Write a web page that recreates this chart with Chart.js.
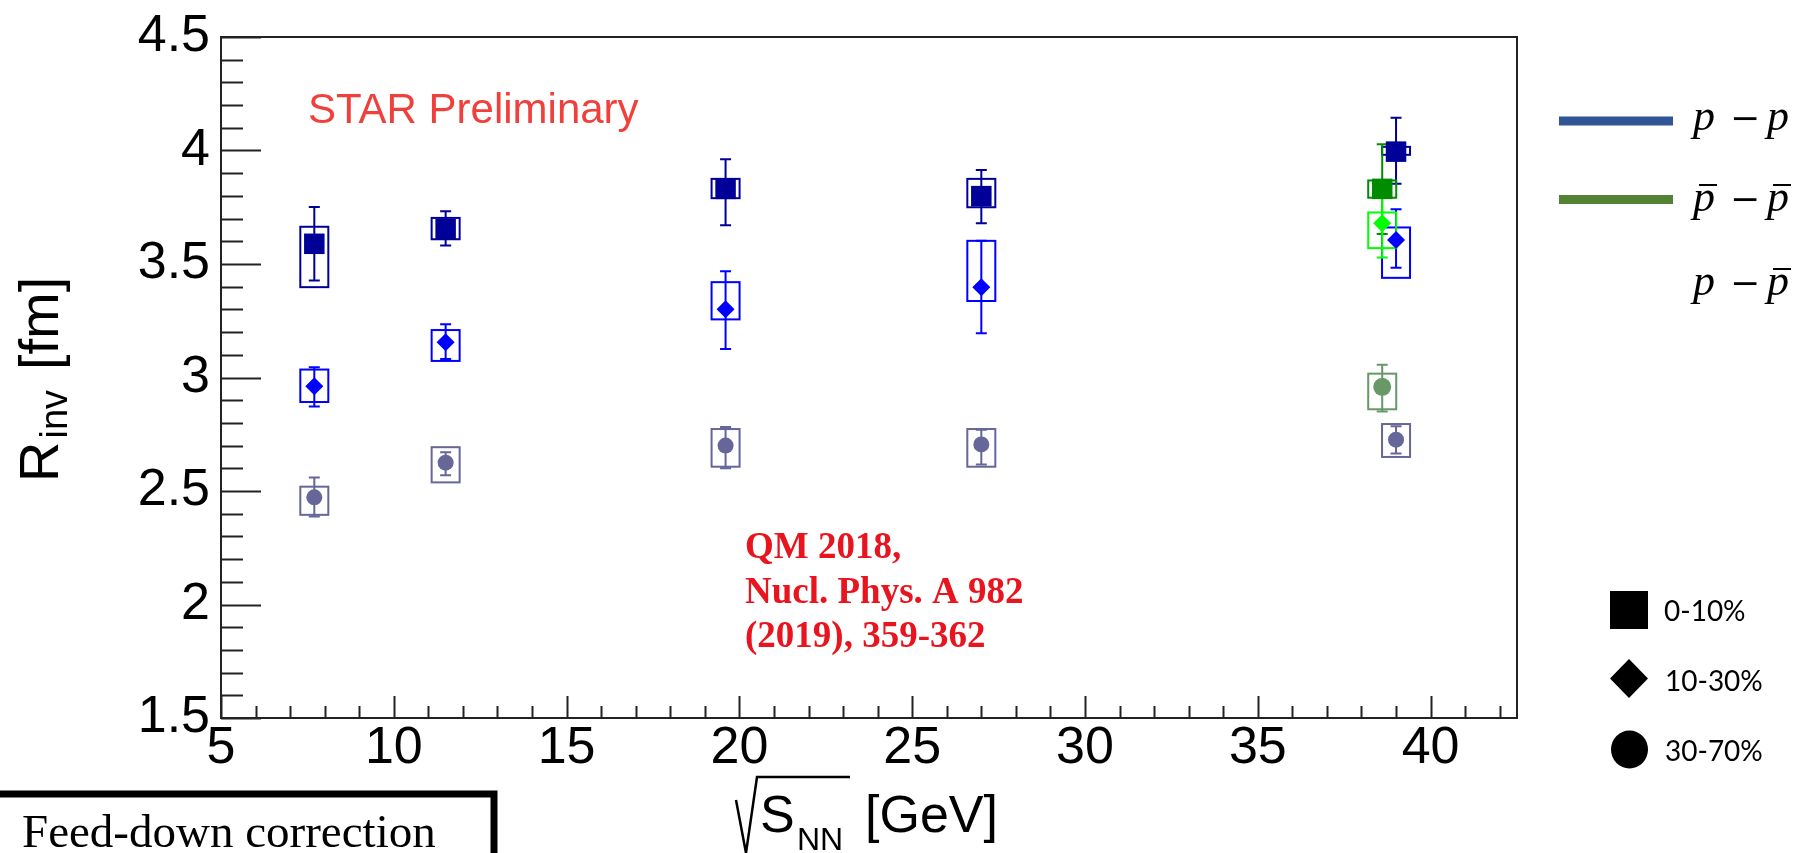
<!DOCTYPE html>
<html><head><meta charset="utf-8">
<script src="https://cdn.jsdelivr.net/npm/chart.js@4.4.1/dist/chart.umd.min.js"></script>
<style>html,body{margin:0;padding:0;background:#fff;overflow:hidden}canvas{display:block}</style>
</head><body>
<canvas id="c" width="1811" height="853"></canvas>
<script>
// ---------------- data ----------------
const energies = [7.7, 11.5, 19.6, 27, 39];          // sqrt(s_NN) [GeV], p-p
const pbarEnergies = [38.6];                          // pbar-pbar (39 GeV, drawn shifted)
const xTickValues = [5, 10, 15, 20, 25, 30, 35, 40];
const yTickValues = [1.5, 2, 2.5, 3, 3.5, 4, 4.5];
const yTickLabels = ['1.5', '2', '2.5', '3', '3.5', '4', '4.5'];

// p-p 0-10%
const pp010 = [3.589, 3.654, 3.831, 3.799, 3.995];
const pp010StatLo = [3.427, 3.581, 3.671, 3.680, 3.853];
const pp010StatHi = [3.751, 3.732, 3.962, 3.914, 4.144];
const pp010SysLo = [3.398, 3.609, 3.790, 3.750, 3.981];
const pp010SysHi = [3.664, 3.703, 3.875, 3.875, 4.016];
// p-p 10-30%
const pp1030 = [2.962, 3.155, 3.301, 3.398, 3.606];
const pp1030StatLo = [2.872, 3.081, 3.126, 3.195, 3.483];
const pp1030StatHi = [3.045, 3.235, 3.468, 3.602, 3.741];
const pp1030SysLo = [2.892, 3.073, 3.256, 3.337, 3.439];
const pp1030SysHi = [3.035, 3.209, 3.420, 3.602, 3.661];
// p-p 30-70%
const pp3070 = [2.472, 2.625, 2.700, 2.705, 2.726];
const pp3070StatLo = [2.388, 2.569, 2.600, 2.617, 2.665];
const pp3070StatHi = [2.559, 2.671, 2.782, 2.770, 2.785];
const pp3070SysLo = [2.395, 2.538, 2.607, 2.607, 2.650];
const pp3070SysHi = [2.519, 2.693, 2.773, 2.773, 2.795];
// pbar-pbar
const pb010 = [3.831], pb010StatLo = [3.632], pb010StatHi = [4.028], pb010SysLo = [3.792], pb010SysHi = [3.868];
const pb1030 = [3.679], pb1030StatLo = [3.529], pb1030StatHi = [3.831], pb1030SysLo = [3.570], pb1030SysHi = [3.727];
const pb3070 = [2.959], pb3070StatLo = [2.850], pb3070StatHi = [3.056], pb3070SysLo = [2.860], pb3070SysHi = [3.017];

// ---------------- series definitions ----------------
const series = [
  {x: energies, y: pp010, sLo: pp010StatLo, sHi: pp010StatHi, yLo: pp010SysLo, yHi: pp010SysHi, color: '#000099', style: 'rect', r: 14.5},
  {x: energies, y: pp1030, sLo: pp1030StatLo, sHi: pp1030StatHi, yLo: pp1030SysLo, yHi: pp1030SysHi, color: '#0000ff', style: 'rectRot', r: 9},
  {x: energies, y: pp3070, sLo: pp3070StatLo, sHi: pp3070StatHi, yLo: pp3070SysLo, yHi: pp3070SysHi, color: '#666699', style: 'circle', r: 8},
  {x: pbarEnergies, y: pb010, sLo: pb010StatLo, sHi: pb010StatHi, yLo: pb010SysLo, yHi: pb010SysHi, color: '#008c00', style: 'rect', r: 14.5},
  {x: pbarEnergies, y: pb1030, sLo: pb1030StatLo, sHi: pb1030StatHi, yLo: pb1030SysLo, yHi: pb1030SysHi, color: '#00ff00', style: 'rectRot', r: 9},
  {x: pbarEnergies, y: pb3070, sLo: pb3070StatLo, sHi: pb3070StatHi, yLo: pb3070SysLo, yHi: pb3070SysHi, color: '#669966', style: 'circle', r: 9},
];

const datasets = series.map(s => ({
  data: s.x.map((xv, i) => ({x: xv, y: s.y[i]})),
  pointStyle: s.style,
  pointRadius: s.r,
  pointBackgroundColor: s.color,
  pointBorderColor: s.color,
  pointBorderWidth: 0,
  showLine: false
}));

// ---------------- plugins ----------------
const errorPlugin = {
  id: 'errs',
  beforeDatasetsDraw(chart) {
    const {ctx, scales: {x, y}} = chart;
    ctx.save();
    series.forEach(s => {
      ctx.strokeStyle = s.color;
      ctx.lineWidth = 2;
      s.x.forEach((xv, i) => {
        const px = x.getPixelForValue(xv);
        const top = y.getPixelForValue(s.yHi[i]);
        const bot = y.getPixelForValue(s.yLo[i]);
        ctx.strokeRect(px - 14, top, 28, bot - top);
        const st = y.getPixelForValue(s.sHi[i]);
        const sb = y.getPixelForValue(s.sLo[i]);
        ctx.beginPath();
        ctx.moveTo(px, st); ctx.lineTo(px, sb);
        ctx.moveTo(px - 5.5, st); ctx.lineTo(px + 5.5, st);
        ctx.moveTo(px - 5.5, sb); ctx.lineTo(px + 5.5, sb);
        ctx.stroke();
      });
    });
    ctx.restore();
  }
};

const framePlugin = {
  id: 'frame',
  afterDatasetsDraw(chart) {
    const {ctx, chartArea: a, scales: {x, y}} = chart;
    ctx.save();
    ctx.strokeStyle = '#222';
    ctx.lineWidth = 2;
    ctx.beginPath();
    ctx.rect(a.left, a.top, a.right - a.left, a.bottom - a.top);
    ctx.stroke();
    ctx.beginPath();
    for (let k = 15; k <= 45; k++) {
      const py = Math.round(y.getPixelForValue(k / 10)) + 0.5;
      const len = (k % 5 === 0) ? 40 : 22;
      ctx.moveTo(a.left, py); ctx.lineTo(a.left + len, py);
    }
    for (let k = 5; k <= 42; k++) {
      const px = Math.round(x.getPixelForValue(k)) + 0.5;
      const len = (k % 5 === 0) ? 22 : 12;
      ctx.moveTo(px, a.bottom); ctx.lineTo(px, a.bottom - len);
    }
    ctx.stroke();
    ctx.restore();
  }
};

const textPlugin = {
  id: 'texts',
  afterDraw(chart) {
    const ctx = chart.ctx;
    ctx.save();
    ctx.textBaseline = 'alphabetic';
    ctx.textAlign = 'left';
    // STAR Preliminary
    ctx.fillStyle = '#f0403c';
    ctx.font = '42px "Liberation Sans"';
    ctx.fillText('STAR Preliminary', 308, 123);
    // reference
    ctx.fillStyle = '#e8141e';
    ctx.font = 'bold 37px "Liberation Serif"';
    ctx.fillText('QM 2018,', 745, 558);
    ctx.fillText('Nucl. Phys. A 982', 745, 603);
    ctx.fillText('(2019), 359-362', 745, 647);

    // y title (rotated)
    ctx.fillStyle = '#000';
    ctx.save();
    ctx.translate(58, 482);
    ctx.rotate(-Math.PI / 2);
    ctx.font = '56px "Liberation Sans"';
    ctx.fillText('R', 0, 0);
    const rw = ctx.measureText('R').width;
    ctx.font = '38px "Liberation Sans"';
    ctx.fillText('inv', rw + 3, 9);
    ctx.font = '56px "Liberation Sans"';
    ctx.fillText('[fm]', 112, 0);
    ctx.restore();

    // x title
    ctx.strokeStyle = '#000';
    ctx.lineWidth = 2.5;
    ctx.beginPath();
    ctx.moveTo(736, 800); ctx.lineTo(746, 853); ctx.lineTo(757, 777); ctx.lineTo(850, 777);
    ctx.stroke();
    ctx.font = '52px "Liberation Sans"';
    ctx.fillText('S', 760, 832);
    ctx.font = '32px "Liberation Sans"';
    ctx.fillText('NN', 797, 850);
    ctx.font = '52px "Liberation Sans"';
    ctx.fillText('[GeV]', 865, 832);

    // Feed-down box
    ctx.lineWidth = 7;
    ctx.strokeRect(-10, 794, 504, 80);
    ctx.font = '47px "Liberation Serif"';
    ctx.fillText('Feed-down correction', 22, 847);

    // legend lines
    ctx.fillStyle = '#2f5597';
    ctx.fillRect(1559, 116.5, 114, 9);
    ctx.fillStyle = '#548235';
    ctx.fillRect(1559, 195, 114, 9);
    // math labels
    ctx.fillStyle = '#000';
    ctx.strokeStyle = '#000';
    ctx.lineWidth = 2;
    const rows = [
      {b: 130, bar1: false, bar2: false},
      {b: 211, bar1: true, bar2: true},
      {b: 295, bar1: false, bar2: true}
    ];
    rows.forEach(r => {
      ctx.font = 'italic 44px "Liberation Serif"';
      ctx.textAlign = 'left';
      ctx.fillText('p', 1693, r.b);
      ctx.fillText('p', 1767, r.b);
      ctx.font = '36px "DejaVu Serif"';
      ctx.textAlign = 'center';
      ctx.fillText('\u2212', 1745, r.b);
      ctx.beginPath();
      if (r.bar1) { ctx.moveTo(1699, r.b - 26); ctx.lineTo(1717, r.b - 26); }
      if (r.bar2) { ctx.moveTo(1773, r.b - 26); ctx.lineTo(1791, r.b - 26); }
      ctx.stroke();
    });
    // marker legend
    ctx.fillStyle = '#000';
    ctx.fillRect(1610, 591, 38, 38);
    ctx.beginPath();
    ctx.moveTo(1629, 659); ctx.lineTo(1648, 678.5); ctx.lineTo(1629, 698); ctx.lineTo(1610, 678.5); ctx.closePath();
    ctx.fill();
    ctx.beginPath();
    ctx.ellipse(1629.5, 749.5, 18.5, 19, 0, 0, Math.PI * 2);
    ctx.fill();
    ctx.font = '28px Lato';
    ctx.textAlign = 'left';
    ctx.textBaseline = 'middle';
    ctx.fillText('0-10%', 1664, 612);
    ctx.fillText('10-30%', 1665, 682);
    ctx.fillText('30-70%', 1665, 752);
    ctx.restore();
  }
};

new Chart(document.getElementById('c'), {
  type: 'scatter',
  data: {datasets},
  options: {
    responsive: false,
    animation: false,
    devicePixelRatio: 1,
    layout: {padding: {top: 30, right: 294, bottom: 0, left: 0}},
    plugins: {legend: {display: false}, tooltip: {enabled: false}},
    scales: {
      x: {
        type: 'linear', min: 5, max: 42.5,
        afterBuildTicks: s => { s.ticks = xTickValues.map(v => ({value: v})); },
        afterFit: s => { s.height = 135; },
        grid: {display: true, drawOnChartArea: false, drawTicks: false},
        border: {display: false},
        ticks: {font: {family: 'Liberation Sans', size: 52, lineHeight: 1}, color: '#000', padding: 5, maxRotation: 0, autoSkip: false,
                callback: v => String(v)}
      },
      y: {
        type: 'linear', min: 1.5, max: 4.5,
        afterBuildTicks: s => { s.ticks = yTickValues.map(v => ({value: v})); },
        afterFit: s => { s.width = 221; },
        grid: {display: true, drawOnChartArea: false, drawTicks: false},
        border: {display: false},
        ticks: {font: {family: 'Liberation Sans', size: 52, lineHeight: 1}, color: '#000', padding: 11, autoSkip: false,
                callback: v => yTickLabels[yTickValues.indexOf(v)] ?? String(v)}
      }
    }
  },
  plugins: [errorPlugin, framePlugin, textPlugin]
});
</script>
</body></html>
